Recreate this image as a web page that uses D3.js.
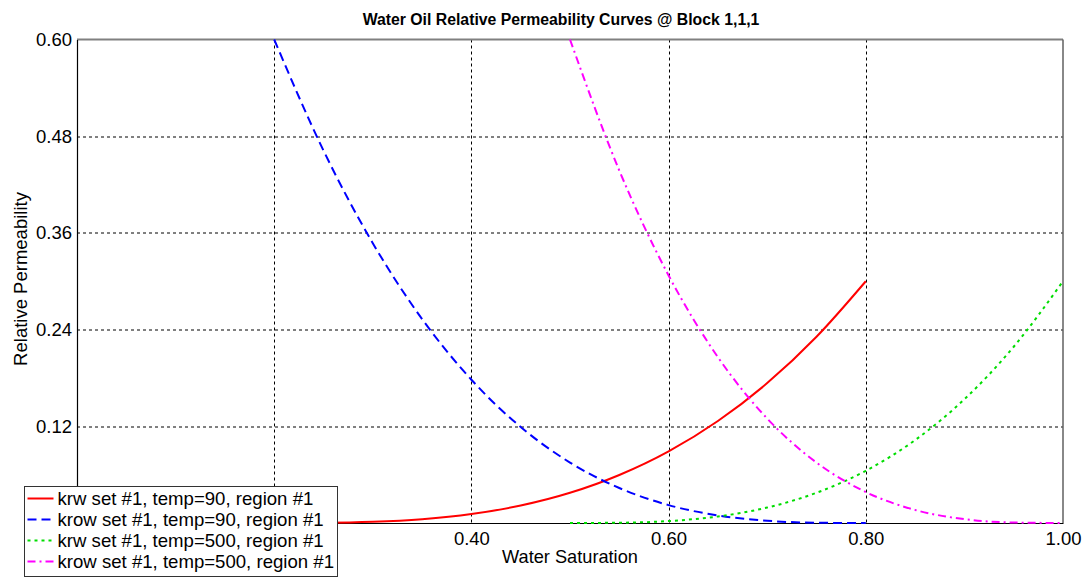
<!DOCTYPE html>
<html lang="en">
<head>
    <meta charset="UTF-8">
    <title>Water Oil Relative Permeability Curves</title>
    <script src="https://d3js.org/d3.v7.min.js"></script>
    <style>
        body {
            margin: 0;
            padding: 0;
            background: #fff;
            font-family: Arial, "Liberation Sans", sans-serif;
        }
    </style>
</head>
<body>
    <div id="chart"></div>
    <script>
        const width = 1090, height = 579;

        // water saturation samples
        const swLow = [0.20, 0.25, 0.30, 0.35, 0.40, 0.45, 0.50, 0.55, 0.60, 0.65, 0.70, 0.75, 0.80];
        const swHigh = [0.50, 0.55, 0.60, 0.65, 0.70, 0.75, 0.80, 0.85, 0.90, 0.95, 1.00];

        // relative permeability values
        const krw90 = [0, 0.0002, 0.0014, 0.0047, 0.0111, 0.0217, 0.0375, 0.0596, 0.0889, 0.1266, 0.1736, 0.2311, 0.30];
        const krow90 = [0.60, 0.4622, 0.3472, 0.2531, 0.1778, 0.1191, 0.075, 0.0434, 0.0222, 0.0094, 0.0028, 0.0003, 0];
        const krw500 = [0, 0.0003, 0.0024, 0.0081, 0.0192, 0.0375, 0.0648, 0.1029, 0.1536, 0.2187, 0.30];
        const krow500 = [0.60, 0.4374, 0.3072, 0.2058, 0.1296, 0.075, 0.0384, 0.0162, 0.0048, 0.0006, 0];

        // grid positions, and the tick labels left visible beside the legend
        const xGrid = [0.20, 0.40, 0.60, 0.80];
        const yGrid = [0.12, 0.24, 0.36, 0.48];
        const xTickLabels = [0.40, 0.60, 0.80, 1.00];
        const yTickLabels = [0.12, 0.24, 0.36, 0.48, 0.60];

        const seriesNames = [
            "krw set #1, temp=90, region #1",
            "krow set #1, temp=90, region #1",
            "krw set #1, temp=500, region #1",
            "krow set #1, temp=500, region #1"
        ];

        const series = [
            { name: seriesNames[0], xs: swLow, ys: krw90, color: "#ff0000", dash: null },
            { name: seriesNames[1], xs: swLow, ys: krow90, color: "#0000ff", dash: "9,5" },
            { name: seriesNames[2], xs: swHigh, ys: krw500, color: "#00dd00", dash: "3,4" },
            { name: seriesNames[3], xs: swHigh, ys: krow500, color: "#ff00ff", dash: "8,4,2,4" }
        ];

        const margin = { left: 77, right: 27, top: 39.5, bottom: 56 };
        const plotW = width - margin.left - margin.right;
        const plotH = height - margin.top - margin.bottom;

        const x = d3.scaleLinear().domain([0, 1]).range([0, plotW]);
        const y = d3.scaleLinear().domain([0, 0.6]).range([plotH, 0]);

        const svg = d3.select("#chart")
            .append("svg")
            .attr("width", width)
            .attr("height", height);

        // title
        svg.append("text")
            .attr("x", 561)
            .attr("y", 25)
            .attr("text-anchor", "middle")
            .attr("font-weight", "bold")
            .attr("font-size", 15.8)
            .attr("fill", "#000")
            .text("Water Oil Relative Permeability Curves @ Block 1,1,1");

        const g = svg.append("g")
            .attr("transform", `translate(${margin.left},${margin.top})`);

        // grid lines
        g.append("g")
            .selectAll("line")
            .data(xGrid)
            .join("line")
            .attr("x1", d => Math.round(x(d)) + 0.5)
            .attr("x2", d => Math.round(x(d)) + 0.5)
            .attr("y1", 0)
            .attr("y2", plotH)
            .attr("stroke", "#000")
            .attr("stroke-dasharray", "3,3");

        g.append("g")
            .selectAll("line")
            .data(yGrid)
            .join("line")
            .attr("x1", 0)
            .attr("x2", plotW)
            .attr("y1", d => Math.round(y(d)) + 0.5)
            .attr("y2", d => Math.round(y(d)) + 0.5)
            .attr("stroke", "#000")
            .attr("stroke-dasharray", "3,3");

        // frame: gray top/right, black left/bottom
        g.append("line").attr("x1", 0).attr("x2", plotW).attr("y1", 0).attr("y2", 0)
            .attr("stroke", "#808080").attr("stroke-width", 2);
        g.append("line").attr("x1", plotW).attr("x2", plotW).attr("y1", 0).attr("y2", plotH)
            .attr("stroke", "#606060").attr("stroke-width", 1.5);

        // axes
        const xAxis = g.append("g")
            .attr("transform", `translate(0,${plotH})`)
            .call(d3.axisBottom(x).tickValues(xTickLabels).tickFormat(d3.format(".2f")).tickSize(0).tickPadding(9));
        const yAxis = g.append("g")
            .call(d3.axisLeft(y).tickValues(yTickLabels).tickFormat(d3.format(".2f")).tickSize(0).tickPadding(5));

        [xAxis, yAxis].forEach(a => {
            a.select(".domain").attr("stroke", "#000").attr("stroke-width", 1.2);
            a.selectAll("text")
                .attr("font-size", 18.5)
                .attr("font-family", "Arial, 'Liberation Sans', sans-serif")
                .attr("fill", "#000");
        });

        // axis titles
        svg.append("text")
            .attr("x", margin.left + x(0.5))
            .attr("y", 563)
            .attr("text-anchor", "middle")
            .attr("font-size", 18.2)
            .text("Water Saturation");

        svg.append("text")
            .attr("transform", "translate(27,279) rotate(-90)")
            .attr("text-anchor", "middle")
            .attr("font-size", 18.5)
            .text("Relative Permeability");

        // curves
        const line = d3.line()
            .x(d => x(d[0]))
            .y(d => y(d[1]))
            .curve(d3.curveMonotoneX);

        g.append("g")
            .selectAll("path")
            .data(series)
            .join("path")
            .attr("d", s => line(s.xs.map((v, i) => [v, s.ys[i]])))
            .attr("fill", "none")
            .attr("stroke", s => s.color)
            .attr("stroke-width", 2)
            .attr("stroke-dasharray", s => s.dash);

        // legend
        const legend = svg.append("g").attr("transform", "translate(24.5,486.5)");
        legend.append("rect")
            .attr("width", 313)
            .attr("height", 90)
            .attr("fill", "#fff")
            .attr("stroke", "#333");

        const rows = legend.selectAll(".row")
            .data(series)
            .join("g")
            .attr("class", "row")
            .attr("transform", (d, i) => `translate(0,${12 + i * 21})`);

        rows.append("line")
            .attr("x1", 3)
            .attr("x2", 29)
            .attr("stroke", d => d.color)
            .attr("stroke-width", 2)
            .attr("stroke-dasharray", d => d.dash);

        rows.append("text")
            .attr("x", 33)
            .attr("y", 6.5)
            .attr("font-size", 18.6)
            .text(d => d.name);
    </script>
</body>
</html>
